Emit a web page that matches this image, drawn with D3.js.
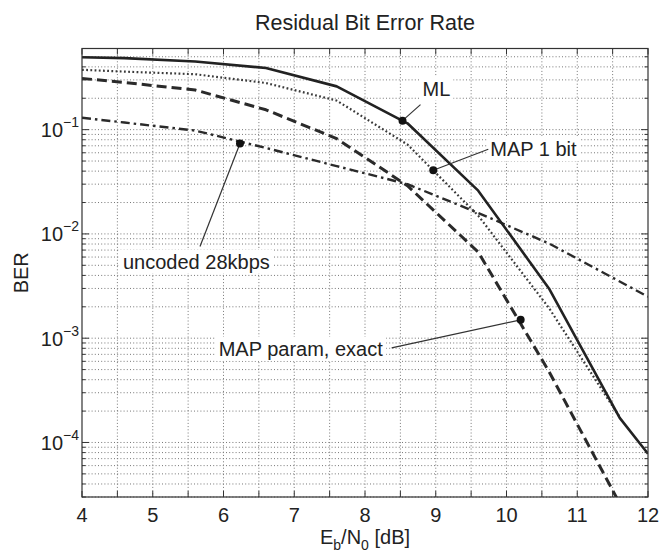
<!DOCTYPE html>
<meta charset="utf-8">
<script src="https://cdn.jsdelivr.net/npm/d3@7"></script>
<style>
    body {margin: 0; background: #fff;}
    svg text {font-family: "Liberation Sans", Arial, Helvetica, sans-serif; fill: #222;}
    .grid line {stroke: #777; stroke-width: 1; stroke-dasharray: 1,2.2;}
</style>
<body>
<div id="chart"></div>
<script>

    // Eb/N0 points of the curves [dB]
    let ebno = [4, 4.6, 5.6, 6.6, 7.6, 8.6, 9.6, 10.6, 11.6, 12];

    let berML       = [0.495, 0.485, 0.45, 0.39, 0.26, 0.115, 0.026, 3.0e-3, 1.72e-4, 7.8e-5];
    let berMap1bit  = [0.375, 0.36, 0.34, 0.28, 0.19, 0.072, 0.015, 1.95e-3, 1.75e-4];
    let berMapParam = [0.31, 0.283, 0.24, 0.155, 0.082, 0.029, 6.7e-3, 4.8e-4, 2.6e-5];
    let berUncoded  = [0.13, 0.117, 0.098, 0.0667, 0.0447, 0.030, 0.0159, 8.1e-3, 3.5e-3, 2.5e-3];

    let xTicks = [4, 5, 6, 7, 8, 9, 10, 11, 12];
    let xMinorTicks = [4.5, 5.5, 6.5, 7.5, 8.5, 9.5, 10.5, 11.5];
    let yDecades = [1e-4, 1e-3, 1e-2, 1e-1];
    let yExponents = [-4, -3, -2, -1];

    // labelled points on the curves
    let annoNames = ["ML", "MAP 1 bit", "uncoded 28kbps", "MAP param, exact"];
    let annoX = [8.53, 8.965, 6.233, 10.2];
    let annoY = [0.122, 0.0408, 0.0735, 1.5e-3];

    let margin = {top: 48.5, right: 12, bottom: 57, left: 82},
        width = 660 - margin.left - margin.right,
        height = 554 - margin.top - margin.bottom;

    let x = d3.scaleLinear().domain([4, 12]).range([0, width]);
    let y = d3.scaleLog().domain([3e-5, 0.6]).range([height, 0]);

    let svg = d3.select("#chart").append("svg")
        .attr("width", 660)
        .attr("height", 554);

    let g = svg.append("g")
        .attr("transform", "translate(" + margin.left + "," + margin.top + ")");

    svg.append("defs").append("clipPath").attr("id", "plot-clip")
        .append("rect").attr("width", width).attr("height", height);

    // log minor values inside the domain
    let yMinor = [];
    [-5, -4, -3, -2, -1].forEach(function(e) {
        for (let m = 1; m <= 9; m++) {
            let v = m * Math.pow(10, e);
            if (v >= 3e-5 && v <= 0.6 + 1e-9) yMinor.push(v);
        }
    });

    let grid = g.append("g").attr("class", "grid");
    grid.selectAll(".gx").data(xMinorTicks.concat(xTicks.slice(1, -1)))
        .enter().append("line")
        .attr("x1", d => x(d)).attr("x2", d => x(d))
        .attr("y1", 0).attr("y2", height);
    grid.selectAll(".gy").data(yMinor)
        .enter().append("line")
        .attr("x1", 0).attr("x2", width)
        .attr("y1", d => y(d)).attr("y2", d => y(d));

    // curves
    let line = d3.line()
        .x(d => x(d[0]))
        .y(d => y(d[1]));

    let series = [
        {vals: berUncoded, dash: "9,4,2.5,4", w: 2.4, col: "#2a2a2a"},
        {vals: berMapParam, dash: "10,5", w: 3, col: "#2a2a2a"},
        {vals: berMap1bit, dash: "1.8,2.4", w: 2.2, col: "#3a3a3a"},
        {vals: berML, dash: null, w: 2.6, col: "#222"}
    ];

    let curves = g.append("g").attr("clip-path", "url(#plot-clip)");
    series.forEach(function(s) {
        curves.append("path")
            .datum(s.vals.map((v, i) => [ebno[i], v]))
            .attr("fill", "none")
            .attr("stroke", s.col)
            .attr("stroke-width", s.w)
            .attr("stroke-dasharray", s.dash)
            .attr("stroke-linejoin", "round")
            .attr("d", line);
    });

    // frame and ticks
    g.append("rect")
        .attr("width", width).attr("height", height)
        .attr("fill", "none").attr("stroke", "#333").attr("stroke-width", 1.2);

    let ticks = g.append("g").attr("stroke", "#333").attr("stroke-width", 1);
    xTicks.concat(xMinorTicks).forEach(function(d) {
        ticks.append("line").attr("x1", x(d)).attr("x2", x(d)).attr("y1", height).attr("y2", height - 6);
        ticks.append("line").attr("x1", x(d)).attr("x2", x(d)).attr("y1", 0).attr("y2", 6);
    });
    yMinor.forEach(function(d) {
        let len = yDecades.indexOf(d) >= 0 ? 7 : 3.5;
        ticks.append("line").attr("x1", 0).attr("x2", len).attr("y1", y(d)).attr("y2", y(d));
        ticks.append("line").attr("x1", width).attr("x2", width - len).attr("y1", y(d)).attr("y2", y(d));
    });

    // tick labels
    g.selectAll(".xlab").data(xTicks)
        .enter().append("text")
        .attr("x", d => x(d))
        .attr("y", height + 25)
        .attr("text-anchor", "middle")
        .style("font-size", "20px")
        .text(d => d);

    let ylab = g.selectAll(".ylab").data(yDecades)
        .enter().append("text")
        .attr("x", -3)
        .attr("y", d => y(d) + 7.5)
        .attr("text-anchor", "end")
        .style("font-size", "20px");
    ylab.append("tspan").text("10");
    ylab.append("tspan")
        .attr("dy", -10)
        .style("font-size", "14px")
        .text((d, i) => "\u2212" + (-yExponents[i]));

    // title and axis labels
    svg.append("text")
        .attr("x", margin.left + width / 2)
        .attr("y", 30)
        .attr("text-anchor", "middle")
        .style("font-size", "21.5px")
        .text("Residual Bit Error Rate");

    let xl = svg.append("text")
        .attr("x", margin.left + width / 2)
        .attr("y", 544)
        .attr("text-anchor", "middle")
        .style("font-size", "20px");
    xl.append("tspan").text("E");
    xl.append("tspan").attr("dy", 6).style("font-size", "14px").text("b");
    xl.append("tspan").attr("dy", -6).text("/N");
    xl.append("tspan").attr("dy", 6).style("font-size", "14px").text("0");
    xl.append("tspan").attr("dy", -6).text(" [dB]");

    svg.append("text")
        .attr("transform", "translate(28," + (margin.top + height / 2) + ") rotate(-90)")
        .attr("text-anchor", "middle")
        .style("font-size", "20px")
        .text("BER");

    // annotations: label offset from the marked point, in pixels
    let labelDx = [20, 57, -117, -302];
    let labelDy = [-25, -14, 125, 36];
    let leadDx = [18, 55, -40, -129];
    let leadDy = [-16, -21, 103, 28];

    let anno = g.append("g");
    annoNames.forEach(function(name, i) {
        let px = x(annoX[i]), py = y(annoY[i]);
        anno.append("line")
            .attr("x1", px).attr("y1", py)
            .attr("x2", px + leadDx[i]).attr("y2", py + leadDy[i])
            .attr("stroke", "#333").attr("stroke-width", 1.2);
        let t = anno.append("text")
            .attr("x", px + labelDx[i])
            .attr("y", py + labelDy[i])
            .style("font-size", "20px")
            .text(name);
        let bb = t.node().getBBox();
        anno.insert("rect", "text")
            .attr("x", bb.x - 3).attr("y", bb.y - 1)
            .attr("width", bb.width + 6).attr("height", bb.height + 2)
            .attr("fill", "#fff");
        anno.append("circle")
            .attr("cx", px).attr("cy", py).attr("r", 4)
            .attr("fill", "#111");
    });

</script>
</body>
